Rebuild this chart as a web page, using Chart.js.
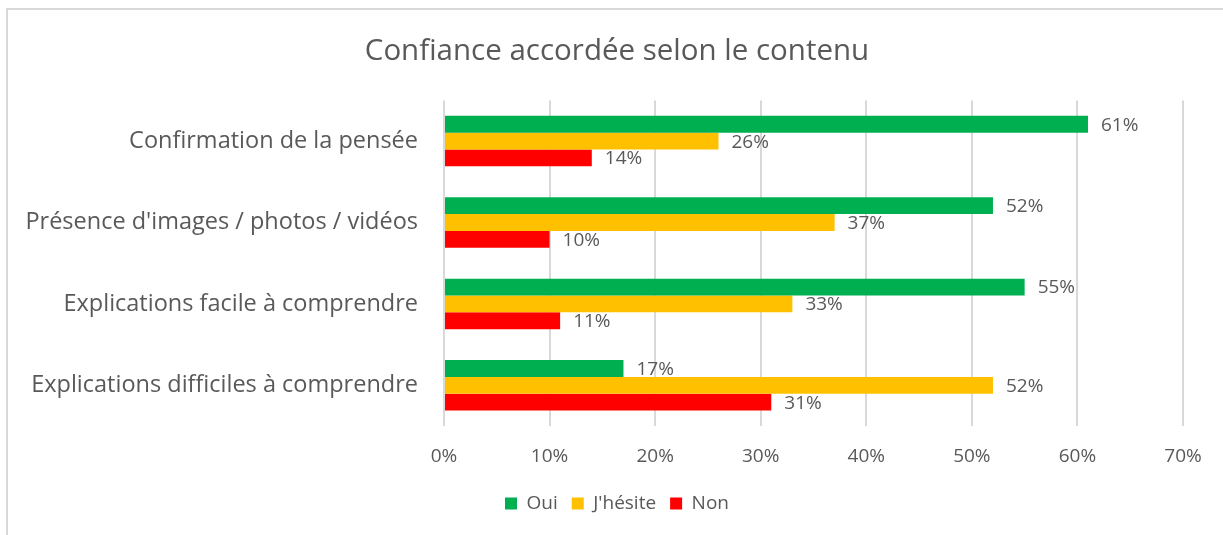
<!DOCTYPE html>
<html>
<head>
<meta charset="utf-8">
<script src="https://cdn.jsdelivr.net/npm/chart.js@4/dist/chart.umd.min.js"></script>
<style>
  html, body { margin: 0; padding: 0; background: #fff; }
  #wrap { width: 1223px; height: 535px; position: relative; }
</style>
</head>
<body>
<div id="wrap"><canvas id="chart" width="1223" height="535"></canvas></div>
<script>
const categories = [
    'Confirmation de la pensée',
    "Présence d'images / photos / vidéos",
    'Explications facile à comprendre',
    'Explications difficiles à comprendre'
]
const oui = [61, 52, 55, 17]
const hesite = [26, 37, 33, 52]
const non = [14, 10, 11, 31]
const xTicks = [0, 10, 20, 30, 40, 50, 60, 70]

const FONT = "'Open Sans', sans-serif"
const GREY = '#595959'

// values written at the end of each bar
const barLabels = {
    id: 'barLabels',
    afterDatasetsDraw(chart) {
        const ctx = chart.ctx
        ctx.save()
        ctx.font = `19px ${FONT}`
        ctx.fillStyle = GREY
        ctx.textAlign = 'left'
        ctx.textBaseline = 'middle'
        chart.data.datasets.forEach((ds, i) => {
            chart.getDatasetMeta(i).data.forEach((bar, j) => {
                ctx.fillText(ds.data[j] + '%', bar.x + 13, bar.y + 1)
            })
        })
        ctx.restore()
    }
}

// light frame on top and left like the original picture
const frame = {
    id: 'frame',
    beforeDraw(chart) {
        const ctx = chart.ctx
        ctx.save()
        ctx.strokeStyle = '#d9d9d9'
        ctx.lineWidth = 2
        ctx.beginPath()
        ctx.moveTo(7, 535)
        ctx.lineTo(7, 9)
        ctx.lineTo(1223, 9)
        ctx.stroke()
        ctx.restore()
    }
}

const data = {
    labels: categories,
    datasets: [
        { label: 'Oui', data: oui, backgroundColor: '#00B050' },
        { label: "J'hésite", data: hesite, backgroundColor: '#FFC000' },
        { label: 'Non', data: non, backgroundColor: '#FF0000' }
    ]
}

const config = {
    type: 'bar',
    data,
    plugins: [frame, barLabels],
    options: {
        indexAxis: 'y',
        responsive: false,
        animation: false,
        datasets: {
            bar: { categoryPercentage: 0.62, barPercentage: 1.0, borderWidth: 0 }
        },
        layout: {
            padding: { top: 10, left: 51, right: 40, bottom: 12 }
        },
        plugins: {
            title: {
                display: true,
                text: 'Confiance accordée selon le contenu',
                color: GREY,
                font: { family: FONT, size: 29.5, weight: 'normal' },
                padding: { top: 24, bottom: 31 }
            },
            legend: {
                position: 'bottom',
                labels: {
                    color: GREY,
                    font: { family: FONT, size: 19 },
                    boxWidth: 12,
                    boxHeight: 12,
                    padding: 14
                }
            },
            tooltip: { enabled: false }
        },
        scales: {
            x: {
                min: 0,
                max: 70,
                afterBuildTicks(scale) {
                    scale.ticks = xTicks.map(v => ({ value: v }))
                },
                afterFit(scale) { scale.height = 54 },
                grid: { color: '#d9d9d9', lineWidth: 2, drawTicks: false },
                border: { display: false },
                ticks: {
                    color: GREY,
                    font: { family: FONT, size: 19 },
                    padding: 19,
                    callback: v => v + '%'
                }
            },
            y: {
                afterFit(scale) { scale.width = 393 },
                // long category names reach past the left padding, don't clip them
                afterUpdate(scale) { scale._computeLabelArea = () => undefined },
                grid: { display: false },
                border: { display: false },
                ticks: {
                    color: GREY,
                    font: { family: FONT, size: 23.5 },
                    padding: 18
                }
            }
        }
    }
}

new Chart(document.getElementById('chart').getContext('2d'), config)
</script>
</body>
</html>
